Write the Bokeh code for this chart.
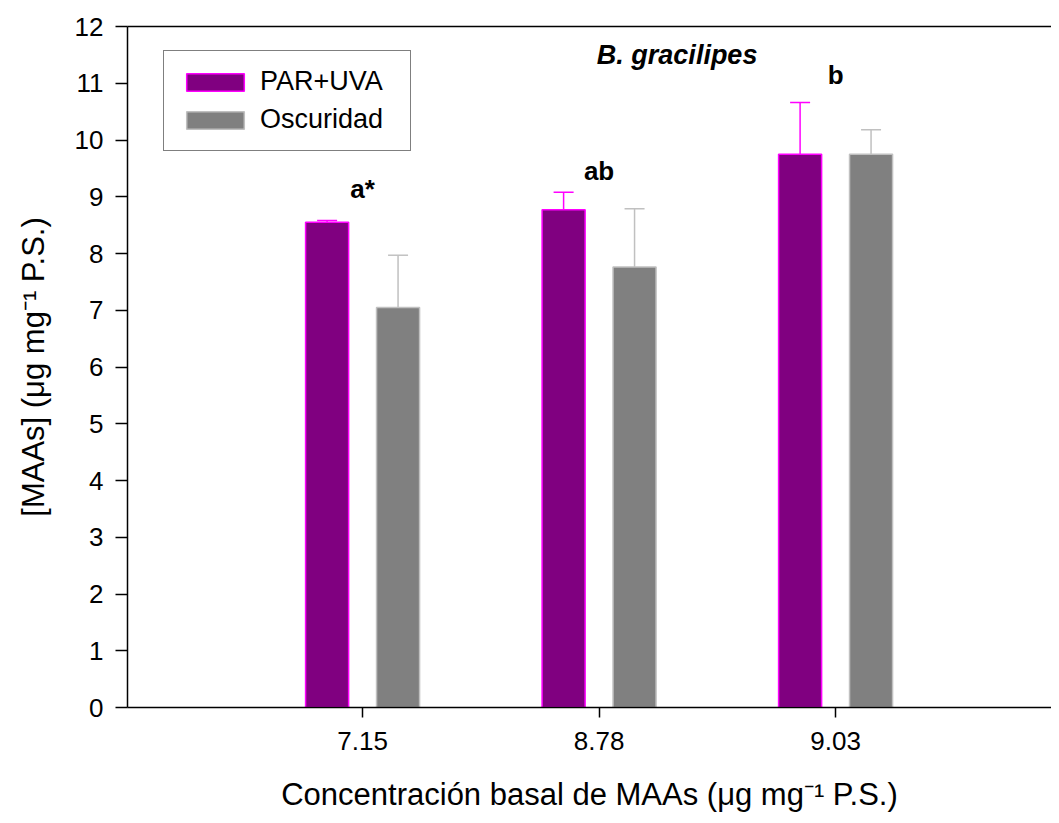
from bokeh.plotting import figure
from bokeh.models import (ColumnDataSource, FixedTicker, LinearAxis, Legend, LegendItem,
                          Whisker, TeeHead, Label)
from bokeh.core.properties import value
from bokeh.embed import file_html
from bokeh.resources import INLINE

# ---- data ----
categories = ["7.15", "8.78", "9.03"]
par_uva = [8.55, 8.77, 9.75]
par_uva_err = [0.03, 0.31, 0.91]
oscuridad = [7.05, 7.76, 9.75]
oscuridad_err = [0.92, 1.03, 0.43]
letters = ["a*", "ab", "b"]
letter_y = [9.14, 9.45, 11.15]

FONT = "Liberation Sans"
PURPLE, MAGENTA = "#800080", "#FF00FF"
GRAY, LIGHTGRAY = "#808080", "#C0C0C0"

idx = list(range(len(categories)))
off, bw = 0.15, 0.182

src_p = ColumnDataSource(dict(x=[i - off for i in idx], top=par_uva,
                              up=[v + e for v, e in zip(par_uva, par_uva_err)]))
src_o = ColumnDataSource(dict(x=[i + off for i in idx], top=oscuridad,
                              up=[v + e for v, e in zip(oscuridad, oscuridad_err)]))
src_l = ColumnDataSource(dict(x=idx, y=letter_y, t=letters))

p = figure(width=1051, height=814, x_range=(-0.994, 2.913), y_range=(0, 12),
           output_backend="svg", toolbar_location=None,
           min_border_left=127, min_border_right=0, min_border_top=26, min_border_bottom=106)
p.grid.visible = False
p.outline_line_color = None
p.background_fill_color = "white"

r1 = p.vbar(x="x", top="top", width=bw, bottom=0, source=src_p,
            fill_color=PURPLE, line_color=MAGENTA, line_width=1.5)
r2 = p.vbar(x="x", top="top", width=bw, bottom=0, source=src_o,
            fill_color=GRAY, line_color=LIGHTGRAY, line_width=1.5)

p.add_layout(Whisker(source=src_p, base="x", upper="up", lower="top", dimension="height",
                     line_color=MAGENTA, line_width=1.5, lower_head=None,
                     upper_head=TeeHead(size=20, line_color=MAGENTA, line_width=1.5)))
p.add_layout(Whisker(source=src_o, base="x", upper="up", lower="top", dimension="height",
                     line_color=LIGHTGRAY, line_width=1.5, lower_head=None,
                     upper_head=TeeHead(size=20, line_color=LIGHTGRAY, line_width=1.5)))

p.text(x="x", y="y", text="t", source=src_l, text_align="center", text_baseline="alphabetic",
       text_font=value(FONT), text_font_size="26px", text_font_style="bold", text_color="black")

p.add_layout(Label(x=1.33, y=11.49, text="B. gracilipes", text_align="center",
                   text_baseline="alphabetic", text_font=FONT, text_font_size="27px",
                   text_font_style="bold italic", text_color="black"))

# axes
xa = p.xaxis[0]
xa.ticker = FixedTicker(ticks=idx)
xa.major_label_overrides = {i: c for i, c in zip(idx, categories)}
ya = p.yaxis[0]
ya.ticker = FixedTicker(ticks=list(range(0, 13)))
for ax in (xa, ya):
    ax.axis_line_width = 1.5
    ax.axis_line_color = "black"
    ax.major_tick_line_width = 1.5
    ax.major_tick_in = 0
    ax.minor_tick_line_color = None
    ax.major_label_text_font = FONT
    ax.major_label_text_font_size = "26px"
    ax.major_label_text_color = "black"
    ax.axis_label_text_font = FONT
    ax.axis_label_text_font_size = "31px"
    ax.axis_label_text_font_style = "normal"
    ax.axis_label_text_color = "black"
xa.major_tick_out = 10
ya.major_tick_out = 12
xa.major_label_standoff = 14
ya.major_label_standoff = 12
xa.axis_label = "Concentración basal de MAAs (μg mg⁻¹ P.S.)"
ya.axis_label = "[MAAs] (μg mg⁻¹ P.S.)"
xa.axis_label_standoff = 24
ya.axis_label_standoff = 21

top_axis = LinearAxis(ticker=FixedTicker(ticks=[]), major_label_text_font_size="0px",
                      major_tick_out=0, major_tick_in=0, major_label_standoff=0,
                      axis_line_width=1.5, axis_line_color="black")
p.add_layout(top_axis, "above")

legend = Legend(items=[LegendItem(label="PAR+UVA", renderers=[r1]),
                       LegendItem(label="Oscuridad", renderers=[r2])],
                location=(36, 556), margin=0, padding=15, spacing=7,
                glyph_width=72, glyph_height=22, label_standoff=9, label_width=135,
                label_text_font=FONT, label_text_font_size="27px", label_text_color="black",
                border_line_color="black", border_line_width=1.5, background_fill_alpha=1)
p.add_layout(legend, "center")

open("out.html", "w").write(file_html(p, INLINE))
